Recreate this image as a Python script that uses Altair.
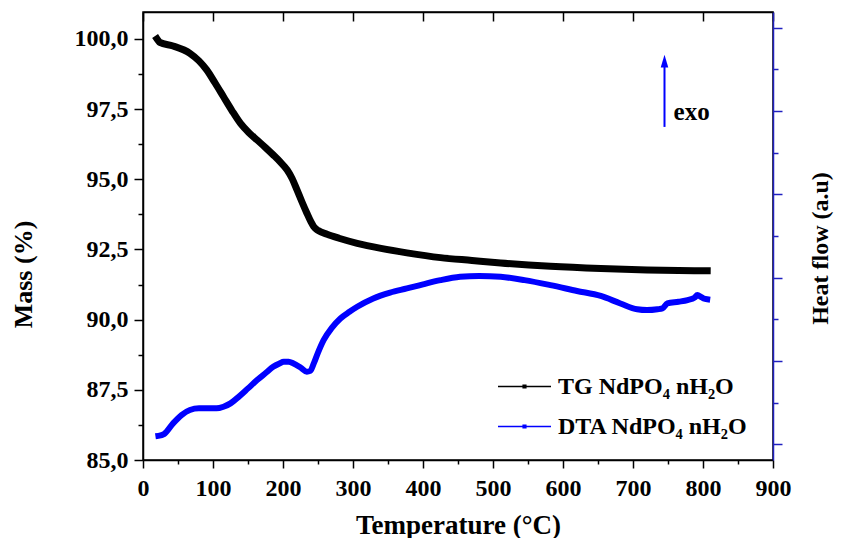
import altair as alt
import pandas as pd

series_names = ["TG NdPO₄ nH₂O", "DTA NdPO₄ nH₂O"]

tg_temp = [20, 24, 43, 67, 80, 91, 103, 115, 127, 139, 151, 163, 175, 186, 196, 206, 213, 220, 227, 234, 240, 244,
           250, 263, 280, 306, 340, 377, 425, 470, 511, 582, 654, 720, 806]
tg_mass = [100.0, 99.88, 99.75, 99.49, 99.22, 98.9, 98.43, 97.94, 97.45, 97.0, 96.67, 96.4, 96.13, 95.87, 95.62, 95.33,
           95.03, 94.62, 94.2, 93.8, 93.48, 93.31, 93.18, 93.04, 92.9, 92.72, 92.54, 92.38, 92.21, 92.11, 92.02, 91.9,
           91.82, 91.77, 91.74]

dta_temp = [22, 30, 43, 55, 67, 80, 91, 105, 115, 125, 134, 150, 163, 176, 186, 195, 201, 208, 215, 225, 234, 239,
            244, 250, 258, 270, 282, 295, 306, 329, 353, 377, 400, 425, 453, 480, 511, 545, 582, 620, 654, 682, 706,
            720, 735, 742, 749, 765, 778, 788, 792, 797, 801, 806]
dta_heat = [0.10, 0.12, 0.25, 0.35, 0.41, 0.43, 0.43, 0.43, 0.45, 0.49, 0.55, 0.67, 0.77, 0.86, 0.93, 0.97, 0.99, 0.99,
            0.97, 0.92, 0.87, 0.88, 0.97, 1.10, 1.25, 1.40, 1.51, 1.59, 1.65, 1.75, 1.82, 1.87, 1.92, 1.97, 2.01, 2.02,
            2.01, 1.97, 1.91, 1.84, 1.78, 1.69, 1.62, 1.61, 1.62, 1.63, 1.69, 1.71, 1.73, 1.76, 1.79, 1.77, 1.75, 1.74]

arrow_x = [745]
arrow_y0 = [3.81]
arrow_y1 = [4.60]
exo_x = [758]
exo_y = [3.99]

FONT = "Liberation Serif"

tg_df = pd.DataFrame({"T": tg_temp, "v": tg_mass, "s": series_names[0]})
dta_df = pd.DataFrame({"T": dta_temp, "v": dta_heat, "s": series_names[1]})
arrow_df = pd.DataFrame({"T": arrow_x, "y0": arrow_y0, "y1": arrow_y1})
exo_df = pd.DataFrame({"T": exo_x, "y": exo_y, "label": ["exo"]})

color = alt.Color(
    "s:N",
    scale=alt.Scale(domain=series_names, range=["#000000", "#0000ff"]),
    legend=alt.Legend(
        title=None,
        orient="none",
        legendX=354,
        legendY=347,
        symbolType="M-1,0H1M-0.05,-0.05H0.05V0.05H-0.05Z",
        symbolSize=2809,
        symbolStrokeWidth=1.5,
        labelFont=FONT,
        labelFontWeight="bold",
        labelFontSize=24,
        labelColor="black",
        labelOffset=6,
        labelLimit=0,
        rowPadding=0,
    ),
)

x_scale = alt.Scale(domain=[0, 900], nice=False, zero=False)
x_values = list(range(0, 901, 50))
y_values = [85 + 1.25 * i for i in range(13)]
r_values = [0.5 * i for i in range(11)]

x_bottom = alt.X(
    "T:Q",
    scale=x_scale,
    axis=alt.Axis(
        orient="bottom",
        values=x_values,
        labelExpr="datum.value % 100 == 0 ? format(datum.value, 'd') : ''",
        tickSize={"condition": {"test": "datum.value % 100 == 0", "value": 8}, "value": 4},
        title="Temperature (°C)",
        titlePadding=12,
        titleFontSize=27,
        labelPadding=8,
    ),
)

x_top = alt.X(
    "T:Q",
    scale=x_scale,
    axis=alt.Axis(
        orient="bottom",
        offset=-448,
        values=x_values,
        labels=False,
        title=None,
        tickSize={"condition": {"test": "datum.value % 100 == 0", "value": 9}, "value": 5},
    ),
)

tg = alt.Chart(tg_df).mark_line(strokeWidth=7, strokeJoin="round", strokeCap="square", interpolate="monotone").encode(
    x=x_bottom,
    y=alt.Y(
        "v:Q",
        scale=alt.Scale(domain=[85, 100.96], nice=False, zero=False),
        axis=alt.Axis(
            orient="left",
            values=y_values,
            labelExpr="datum.value % 2.5 == 0 ? replace(format(datum.value, '.1f'), '.', ',') : ''",
            tickSize={"condition": {"test": "datum.value % 2.5 == 0", "value": 9}, "value": 5},
            labelPadding=6,
            title="Mass (%)",
            titleX=-120,
            titleY=262,
            titleAngle=-90,
            titleAlign="center",
            titleBaseline="middle",
        ),
    ),
    color=color,
)

r_scale = alt.Scale(domain=[-0.19, 5.19], nice=False, zero=False)
r_axis = alt.Axis(
    orient="right",
    values=r_values,
    labels=False,
    tickSize={"condition": {"test": "datum.value % 1 == 0", "value": 9}, "value": 5},
    domainColor="#2020c0",
    tickColor="#2020c0",
    title="Heat flow (a.u)",
    titleX=47,
    titleY=236,
    titleAngle=-90,
    titleAlign="center",
    titleBaseline="middle",
    titleFontSize=24,
)

dta = alt.Chart(dta_df).mark_line(strokeWidth=6, strokeJoin="round", strokeCap="square", interpolate="monotone").encode(
    x=x_top,
    y=alt.Y("v:Q", scale=r_scale, axis=r_axis),
    color=color,
)

arrow_line = alt.Chart(arrow_df).mark_rule(color="#0000ff", strokeWidth=2).encode(
    x=alt.X("T:Q", scale=x_scale),
    y=alt.Y("y0:Q", scale=r_scale),
    y2="y1:Q",
)
arrow_head = alt.Chart(arrow_df).mark_point(
    shape="M0,-1L0.6,1L-0.6,1Z", filled=True, color="#0000ff", opacity=1, size=160
).encode(
    x=alt.X("T:Q", scale=x_scale),
    y=alt.Y("y1:Q", scale=r_scale),
)
exo_text = alt.Chart(exo_df).mark_text(
    font=FONT, fontWeight="bold", fontSize=25, align="left", baseline="middle", color="black"
).encode(
    x=alt.X("T:Q", scale=x_scale),
    y=alt.Y("y:Q", scale=r_scale),
    text="label:N",
)

right_layer = alt.layer(dta, arrow_line, arrow_head, exo_text)

chart = alt.layer(tg, right_layer).resolve_scale(
    y="independent", x="independent"
).properties(
    width=630,
    height=448,
    autosize=alt.AutoSizeParams(type="none"),
    padding={"left": 135, "top": 4, "right": 61, "bottom": 78},
    background="white",
).configure_view(
    stroke="black", strokeWidth=1.5
).configure_axis(
    grid=False,
    labelFlush=False,
    domainColor="black",
    domainWidth=1.5,
    tickColor="black",
    tickWidth=1.5,
    labelFont=FONT,
    labelFontWeight="bold",
    labelFontSize=24,
    labelColor="black",
    titleFont=FONT,
    titleFontWeight="bold",
    titleFontSize=26,
    titleColor="black",
)

chart.save("out.html", embed_options={"renderer": "svg", "actions": False})
